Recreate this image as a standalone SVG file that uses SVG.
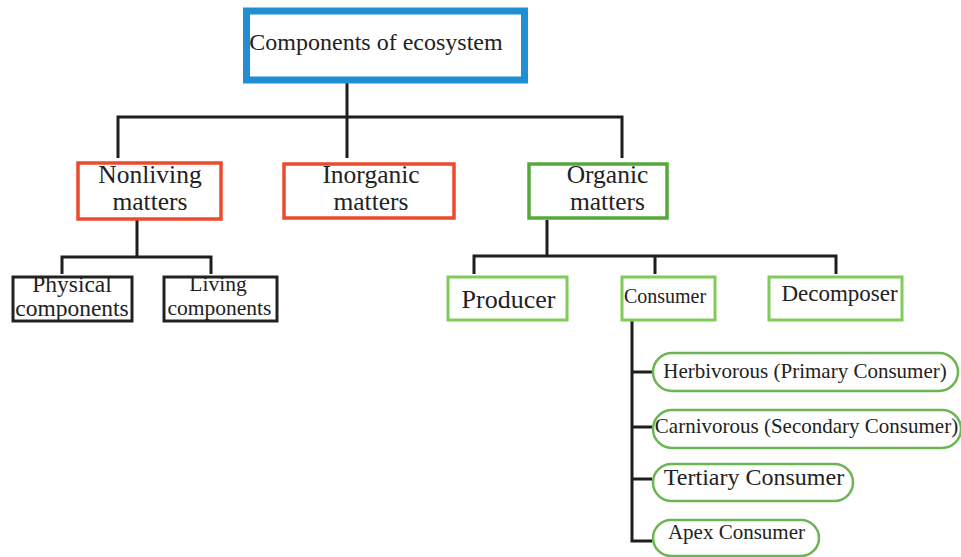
<svg xmlns="http://www.w3.org/2000/svg" width="961" height="557" viewBox="0 0 961 557">
  <style>
    text { font-family: "Liberation Serif", "Times New Roman", serif; fill: #222; text-anchor: middle; }
    .two { font-size: 25.5px; }
    .wire { fill: none; stroke: #1e1e1e; stroke-width: 3; }
    .root { fill: #fff; stroke: #1f8fd2; stroke-width: 7; }
    .red { fill: #fff; stroke: #ec4a2c; stroke-width: 3.5; }
    .green { fill: #fff; stroke: #57a83c; stroke-width: 3.5; }
    .lgreen { fill: #fff; stroke: #7fcc5a; stroke-width: 3; }
    .black { fill: #fff; stroke: #222; stroke-width: 3; }
    .pill { fill: #fff; stroke: #6cb554; stroke-width: 2.5; }
  </style>
  <rect width="961" height="557" fill="#fff"/>

  <g id="connectors">
    <path class="wire" d="M347 83 V117 M118 158 V117 H622 V158 M347 117 V158"/>
    <path class="wire" d="M137 220 V257 M62 274 V257 H211 V274"/>
    <path class="wire" d="M547 220 V256 M474 274 V256 H836 V274 M655 256 V274"/>
    <path class="wire" d="M632 321 V541 H652 M632 372 H652 M632 427 H652 M632 479 H652"/>
  </g>

  <g id="ecosystem">
    <rect class="root" x="246.5" y="11" width="278" height="69"/>
    <text x="376" y="50" font-size="24">Components of ecosystem</text>
  </g>

  <g id="nonliving">
    <rect class="red" x="78" y="163" width="143" height="56"/>
    <text class="two" x="150" y="183">Nonliving</text>
    <text class="two" x="150" y="210">matters</text>
  </g>

  <g id="inorganic">
    <rect class="red" x="284" y="164" width="170" height="54"/>
    <text class="two" x="371" y="183">Inorganic</text>
    <text class="two" x="371" y="210">matters</text>
  </g>

  <g id="organic">
    <rect class="green" x="529" y="164" width="138" height="54"/>
    <text class="two" x="607.5" y="183">Organic</text>
    <text class="two" x="607.5" y="210">matters</text>
  </g>

  <g id="physical">
    <rect class="black" x="13" y="277" width="119" height="44"/>
    <text x="72" y="292" font-size="23.5">Physical</text>
    <text x="72" y="316" font-size="23.5">components</text>
  </g>

  <g id="living">
    <rect class="black" x="164" y="277" width="113" height="44"/>
    <text x="218" y="291" font-size="21.5">Living</text>
    <text x="219.5" y="315" font-size="21.5">components</text>
  </g>

  <g id="producer">
    <rect class="lgreen" x="448" y="277" width="119" height="43"/>
    <text x="508.5" y="308" font-size="26">Producer</text>
  </g>

  <g id="consumer">
    <rect class="lgreen" x="622" y="277" width="93" height="43"/>
    <text x="665" y="303" font-size="20">Consumer</text>
  </g>

  <g id="decomposer">
    <rect class="lgreen" x="769" y="277" width="133" height="43"/>
    <text x="839.5" y="301" font-size="23">Decomposer</text>
  </g>

  <g id="herbivorous">
    <rect class="pill" x="653" y="353" width="305" height="38" rx="19"/>
    <text x="805" y="378" font-size="21">Herbivorous (Primary Consumer)</text>
  </g>

  <g id="carnivorous">
    <rect class="pill" x="653" y="410" width="308" height="38" rx="19"/>
    <text x="806.5" y="433" font-size="21">Carnivorous (Secondary Consumer)</text>
  </g>

  <g id="tertiary">
    <rect class="pill" x="653" y="464" width="200" height="37" rx="18.5"/>
    <text x="754" y="485" font-size="24">Tertiary Consumer</text>
  </g>

  <g id="apex">
    <rect class="pill" x="653" y="520" width="166" height="36" rx="18"/>
    <text x="736.5" y="539" font-size="21">Apex Consumer</text>
  </g>
</svg>
